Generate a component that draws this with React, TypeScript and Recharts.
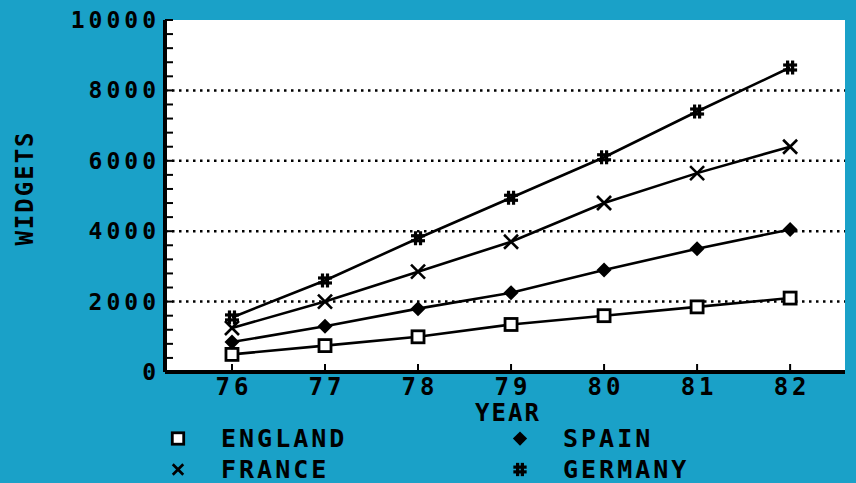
import { LineChart, Line, XAxis, YAxis, CartesianGrid, Legend } from 'recharts'

const YEARS = [76, 77, 78, 79, 80, 81, 82]
const ENGLAND = [500, 750, 1000, 1350, 1600, 1850, 2100]
const FRANCE = [1250, 2000, 2850, 3700, 4800, 5650, 6400]
const SPAIN = [850, 1300, 1800, 2250, 2900, 3500, 4050]
const GERMANY = [1550, 2600, 3800, 4950, 6100, 7400, 8650]

const Y_LABELS = [0, 2000, 4000, 6000, 8000, 10000]
const Y_MINOR = Array.from({ length: 26 }, (_, i) => i * 400)
const GRID_VALUES = [2000, 4000, 6000, 8000]

const data = YEARS.map((year, i) => ({
  year,
  england: ENGLAND[i],
  france: FRANCE[i],
  spain: SPAIN[i],
  germany: GERMANY[i],
}))

const BG = '#1aa1c8'
const FONT = '"DejaVu Sans Mono", monospace'
const X_DOMAIN: [number, number] = [75.28, 82.59]

type Kind = 'square' | 'cross' | 'diamond' | 'hash'

const Marker = ({ kind, cx, cy, s = 1 }: { kind: Kind; cx: number; cy: number; s?: number }) => {
  if (kind === 'square')
    return <rect x={cx - 6 * s} y={cy - 6 * s} width={12 * s} height={12 * s} fill='#fff' stroke='#000' strokeWidth={2.8} />
  if (kind === 'cross')
    return (
      <g stroke='#000' strokeWidth={2.6}>
        <line x1={cx - 7 * s} y1={cy - 7 * s} x2={cx + 7 * s} y2={cy + 7 * s} />
        <line x1={cx - 7 * s} y1={cy + 7 * s} x2={cx + 7 * s} y2={cy - 7 * s} />
      </g>
    )
  if (kind === 'diamond')
    return <polygon points={`${cx},${cy - 7.5 * s} ${cx + 7.5 * s},${cy} ${cx},${cy + 7.5 * s} ${cx - 7.5 * s},${cy}`} fill='#000' />
  return (
    <g stroke='#000' strokeWidth={3.2}>
      <line x1={cx - 2.5 * s} y1={cy - 7 * s} x2={cx - 2.5 * s} y2={cy + 7 * s} />
      <line x1={cx + 2.5 * s} y1={cy - 7 * s} x2={cx + 2.5 * s} y2={cy + 7 * s} />
      <line x1={cx - 7 * s} y1={cy - 2.5 * s} x2={cx + 7 * s} y2={cy - 2.5 * s} />
      <line x1={cx - 7 * s} y1={cy + 2.5 * s} x2={cx + 7 * s} y2={cy + 2.5 * s} />
    </g>
  )
}

const SERIES: { key: string; name: string; kind: Kind }[] = [
  { key: 'england', name: 'ENGLAND', kind: 'square' },
  { key: 'france', name: 'FRANCE', kind: 'cross' },
  { key: 'spain', name: 'SPAIN', kind: 'diamond' },
  { key: 'germany', name: 'GERMANY', kind: 'hash' },
]

const YTick = ({ x, y, payload }: any) => (
  <g>
    <line x1={x} x2={x + 8} y1={y} y2={y} stroke='#000' strokeWidth={2} />
    {Y_LABELS.includes(payload.value) && (
      <text x={x - 5} y={y} textAnchor='end' dominantBaseline='central' fontFamily={FONT} fontWeight='bold' fontSize={23} letterSpacing={4} fill='#000'>
        {payload.value}
      </text>
    )}
  </g>
)

const XTick = ({ x, y, payload }: any) => (
  <g>
    <line x1={x} x2={x} y1={y} y2={y - 8} stroke='#000' strokeWidth={2} />
    <text x={x + 2} y={y + 15} textAnchor='middle' dominantBaseline='central' fontFamily={FONT} fontWeight='bold' fontSize={24} letterSpacing={4} fill='#000'>
      {payload.value}
    </text>
  </g>
)

const LegendContent = () => (
  <div
    style={{
      display: 'grid',
      gridTemplateRows: '31px 31px',
      gridTemplateColumns: '342px 200px',
      gridAutoFlow: 'column',
      fontFamily: FONT,
      fontWeight: 'bold',
      fontSize: 25,
      letterSpacing: 3,
      color: '#000',
    }}
  >
    {SERIES.map((s) => (
      <div key={s.key} style={{ display: 'flex', alignItems: 'center', height: 31 }}>
        <svg width={51} height={31} style={{ flex: 'none' }}>
          <Marker kind={s.kind} cx={8} cy={15.5} s={s.kind === 'cross' ? 0.75 : 0.95} />
        </svg>
        <span style={{ lineHeight: '31px' }}>{s.name}</span>
      </div>
    ))}
  </div>
)

export default function App() {
  return (
    <div style={{ width: 856, height: 483, background: BG, position: 'relative', overflow: 'hidden' }}>
      <style>{'body{margin:0}'}</style>
      <LineChart width={856} height={483} data={data} margin={{ top: 20, right: 11, bottom: 0, left: 0 }}>
        <CartesianGrid
          vertical={false}
          horizontalValues={GRID_VALUES}
          fill='#fff'
          stroke='#000'
          strokeWidth={2.5}
          strokeDasharray='2.5 4.5'
        />
        <XAxis
          dataKey='year'
          type='number'
          domain={X_DOMAIN}
          ticks={YEARS}
          allowDataOverflow
          height={111}
          tickSize={0}
          tickMargin={0}
          tickLine={false}
          tick={<XTick />}
          axisLine={{ stroke: '#000', strokeWidth: 4 }}
          label={{
            content: ({ viewBox }: any) => (
              <text x={viewBox.x + viewBox.width / 2 + 3} y={413} textAnchor='middle' dominantBaseline='central' fontFamily={FONT} fontWeight='bold' fontSize={24} letterSpacing={2} fill='#000'>
                YEAR
              </text>
            ),
          }}
        />
        <XAxis xAxisId='top' orientation='top' dataKey='year' type='number' domain={X_DOMAIN} allowDataOverflow height={0} tick={false} tickLine={false} axisLine={{ stroke: '#000', strokeWidth: 4 }} />
        <YAxis
          domain={[0, 10000]}
          ticks={Y_MINOR}
          interval={0}
          width={165}
          tickSize={0}
          tickMargin={0}
          tickLine={false}
          tick={<YTick />}
          axisLine={{ stroke: '#000', strokeWidth: 4 }}
          label={{
            content: ({ viewBox }: any) => (
              <text
                x={25}
                y={viewBox.y + viewBox.height / 2 - 8}
                transform={`rotate(-90, 25, ${viewBox.y + viewBox.height / 2 - 8})`}
                textAnchor='middle'
                dominantBaseline='central'
                fontFamily={FONT}
                fontWeight='bold'
                fontSize={24}
                letterSpacing={2}
                fill='#000'
              >
                WIDGETS
              </text>
            ),
          }}
        />
        <YAxis yAxisId='right' orientation='right' domain={[0, 10000]} width={0} tick={false} tickLine={false} axisLine={{ stroke: '#000', strokeWidth: 4 }} />
        {SERIES.map((s) => (
          <Line
            key={s.key}
            dataKey={s.key}
            name={s.name}
            stroke='#000'
            strokeWidth={2.6}
            isAnimationActive={false}
            dot={(p: any) => <Marker key={`${s.key}-${p.index}`} kind={s.kind} cx={p.cx} cy={p.cy} />}
            activeDot={false}
          />
        ))}
        <Legend
          layout='horizontal'
          verticalAlign='middle'
          align='center'
          content={<LegendContent />}
          wrapperStyle={{ top: 423, left: 170, width: 600, height: 62 }}
        />
      </LineChart>
    </div>
  )
}
